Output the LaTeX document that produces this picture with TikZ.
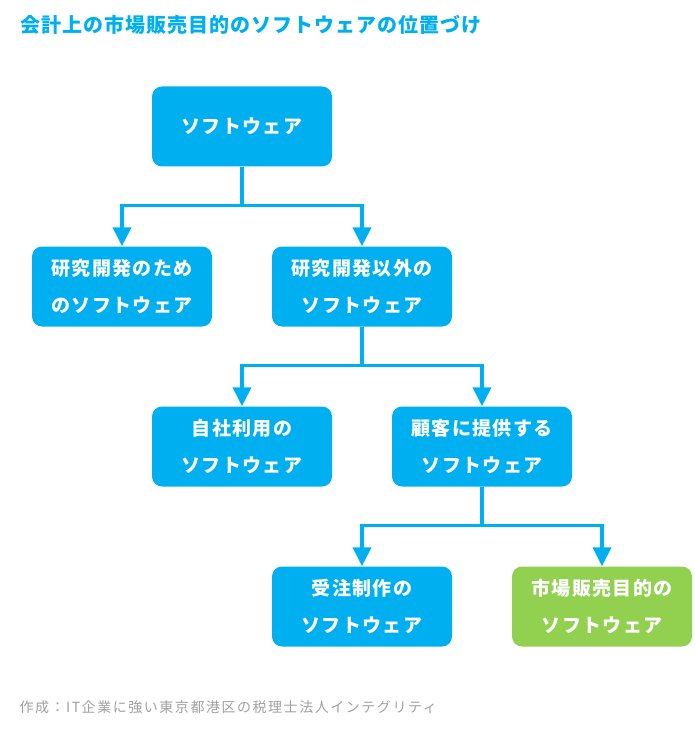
\documentclass[tikz,border=0pt]{standalone}
\usepackage{fontspec}
\setmainfont{Noto Sans CJK JP}
\newfontfamily\boxfont[LetterSpace=7]{Noto Sans CJK JP}
\newfontfamily\titlefont[LetterSpace=5]{Noto Sans CJK JP}
\newfontfamily\notefont[LetterSpace=11]{Noto Sans CJK JP}
\usetikzlibrary{arrows.meta}
\definecolor{BoxBlue}{HTML}{00AFEF}
\definecolor{BoxGreen}{HTML}{92D050}
\definecolor{NoteGray}{HTML}{A0A0A0}

\begin{document}
\begin{tikzpicture}[level distance=160pt, sibling distance=240pt,
      every node/.append style={align=center,text=white,
        font=\boxfont\bfseries\fontsize{19pt}{37pt}\selectfont},
      edge from parent/.style={draw=BoxBlue,line width=3.5pt,
        -{Triangle[length=19pt,width=18pt]}},
      edge from parent path={(\tikzparentnode.south) -- ++(0,-39pt) -| (\tikzchildnode.north)}]
	  \tikzstyle{soft} = [fill=BoxBlue,rounded corners=10pt,minimum width=180pt,minimum height=80pt,inner sep=0pt]
	  \tikzstyle{market} = [soft,fill=BoxGreen]
	  \useasboundingbox (0,0) rectangle (694pt,-735pt);
	  \node (title) [anchor=west,text=BoxBlue,font=\titlefont\bfseries\fontsize{20pt}{22pt}\selectfont] at (17pt,-25pt) {会計上の市場販売目的のソフトウェアの位置づけ};
	  \node (1_1) [soft] at (242pt,-126.5pt) {ソフトウェア}
	  child {node (1_2) [soft] {研究開発のため\\のソフトウェア}}
	  child {node (1_3) [soft] {研究開発以外の\\ソフトウェア}
	    child {node (1_4) [soft] {自社利用の\\ソフトウェア}}
	    child {node (1_5) [soft] {顧客に提供する\\ソフトウェア}
	      child {node (1_6) [soft] {受注制作の\\ソフトウェア}}
	      child {node (1_7) [market] {市場販売目的の\\ソフトウェア}}
	    }
	  };
	  \node (note) [anchor=west,text=NoteGray,font=\notefont\fontsize{14pt}{16pt}\selectfont] at (16pt,-707pt) {作成：IT企業に強い東京都港区の税理士法人インテグリティ};
\end{tikzpicture}
\end{document}
